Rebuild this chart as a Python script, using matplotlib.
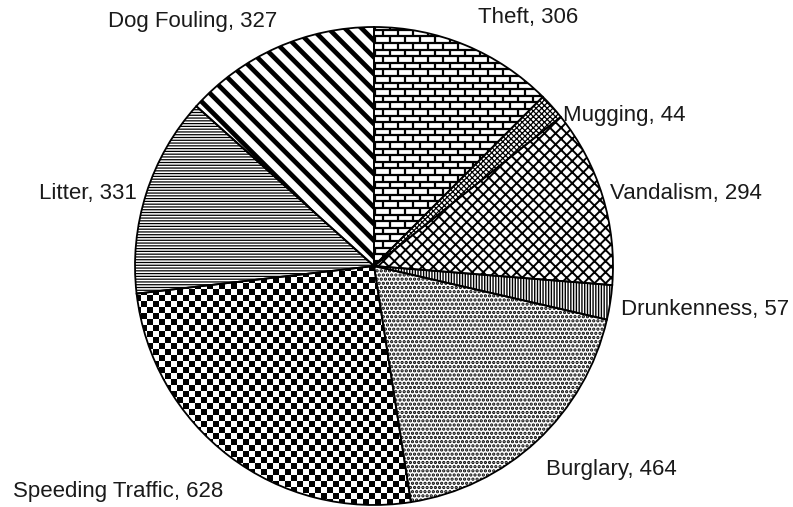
import numpy as np
import matplotlib
matplotlib.use('Agg')
import matplotlib.pyplot as plt
from matplotlib.collections import LineCollection

plt.rcParams['font.family'] = ['Liberation Sans', 'DejaVu Sans']

LABELS = ['Theft', 'Mugging', 'Vandalism', 'Drunkenness', 'Burglary',
          'Speeding Traffic', 'Litter', 'Dog Fouling']
COUNTS = [306, 44, 294, 57, 464, 628, 331, 327]

# matplotlib hatches; '' = drawn by hand below (brick / checkerboard)
HATCHES = ['', 'xxxxxx', 'xxx', '||||||', '....', '', '------', '\\\\']
HATCH_LW = [1.0, 0.9, 1.4, 1.0, 1.6, 1.0, 0.9, 3.4]

# label centres in image pixels (x, y from top)
LABEL_XY = [(528, 17), (624, 115), (686, 193), (705, 310),
            (611, 470), (118, 492), (88, 194), (193, 22)]

W, H = 793, 507
CX, CY, R = 374, 241, 239

fig = plt.figure(figsize=(W / 100, H / 100), dpi=100)
ax = fig.add_axes([0, 0, 1, 1])

wedges, _ = ax.pie(COUNTS, startangle=90, counterclock=False, center=(CX, CY),
                   radius=R, colors=['white'] * len(COUNTS),
                   wedgeprops=dict(edgecolor='black', linewidth=0))
for w, h, lw in zip(wedges, HATCHES, HATCH_LW):
    if h:
        w.set_hatch(h)
        w.set_edgecolor('black')
        try:
            w.set_hatch_linewidth(lw)
        except AttributeError:
            pass

# brick pattern for Theft
ROW_H, BRICK_W = 6.6, 15
segs = []
for i in range(int(2 * R / ROW_H) + 2):
    y = CY - R + i * ROW_H
    segs.append([(CX - R, y), (CX + R, y)])
    off = (i % 2) * BRICK_W / 2
    for x in np.arange(CX - R + off, CX + R, BRICK_W):
        segs.append([(x, y), (x, y + ROW_H)])
lc = LineCollection(segs, colors='black', linewidths=1.6, zorder=2)
ax.add_collection(lc)
lc.set_clip_path(wedges[0])

# checkerboard for Speeding Traffic
CELL = 6
n = int(2 * R / CELL) + 2
yy, xx = np.mgrid[0:n, 0:n]
im = ax.imshow((xx + yy) % 2, cmap='gray', origin='lower', interpolation='nearest',
               extent=(CX - R, CX - R + n * CELL, CY - R, CY - R + n * CELL), zorder=2)
im.set_clip_path(wedges[5])

# outlines on top
ax.pie(COUNTS, startangle=90, counterclock=False, center=(CX, CY), radius=R,
       wedgeprops=dict(fill=False, edgecolor='black', linewidth=1.3, zorder=3))

for lab, val, (x, y) in zip(LABELS, COUNTS, LABEL_XY):
    ax.text(x, H - y, f'{lab}, {val}', ha='center', va='center', fontsize=16,
            color='#1a1a1a')

ax.set_xlim(0, W)
ax.set_ylim(0, H)
ax.set_aspect('equal')
ax.axis('off')

fig.savefig('out.png', dpi=100, facecolor='white')
